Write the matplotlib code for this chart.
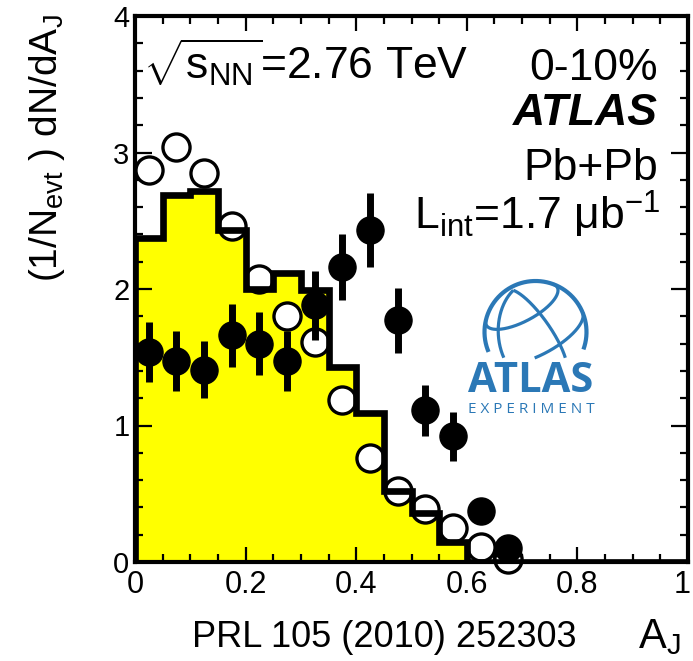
import numpy as np
import matplotlib
matplotlib.use('Agg')
import matplotlib.pyplot as plt
from matplotlib.transforms import ScaledTranslation

plt.rcParams['font.family'] = ['Liberation Sans', 'DejaVu Sans']
plt.rcParams['mathtext.fontset'] = 'custom'
plt.rcParams['mathtext.rm'] = 'Liberation Sans'
plt.rcParams['mathtext.it'] = 'Liberation Sans:italic'
plt.rcParams['mathtext.bf'] = 'Liberation Sans:bold'

# ---------------- data ----------------
bin_edges = [0.00, 0.05, 0.10, 0.15, 0.20, 0.25, 0.30, 0.35, 0.40, 0.45, 0.50,
             0.55, 0.60, 0.65, 0.70, 0.75, 0.80, 0.85, 0.90, 0.95, 1.00]
hijing_pythia = [2.37, 2.69, 2.72, 2.43, 2.00, 2.12, 1.99, 1.43, 1.09, 0.52,
                 0.36, 0.15, 0.0, 0.0, 0.0, 0.0, 0.0, 0.0, 0.0, 0.0]
aj_centers = [0.025, 0.075, 0.125, 0.175, 0.225, 0.275, 0.325, 0.375, 0.425,
              0.475, 0.525, 0.575, 0.625, 0.675]
pp_values = [2.87, 3.04, 2.85, 2.46, 2.07, 1.80, 1.61, 1.19, 0.76, 0.52,
             0.39, 0.25, 0.11, 0.02]
pbpb_values = [1.54, 1.47, 1.41, 1.66, 1.60, 1.47, 1.88, 2.16, 2.43, 1.77,
               1.11, 0.92, 0.37, 0.10]
pbpb_errors = [0.22, 0.22, 0.21, 0.23, 0.23, 0.22, 0.25, 0.24, 0.27, 0.24,
               0.19, 0.18, 0.06, 0.04]
x_ticks = [0, 0.2, 0.4, 0.6, 0.8, 1.0]
x_tick_labels = ['0', '0.2', '0.4', '0.6', '0.8', '1']
y_ticks = [0, 1, 2, 3, 4]
y_tick_labels = ['0', '1', '2', '3', '4']

W, H = 693, 661
def fx(px):
    return px / W
def fy(py):
    return 1 - py / H

fig = plt.figure(figsize=(W / 100, H / 100), dpi=100)
ax = fig.add_axes([fx(135), fy(562), 553 / W, 546 / H])

ax.stairs(hijing_pythia, bin_edges, fill=True, color='#ffff00', zorder=1)
ax.plot(aj_centers, pp_values, 'o', mfc='white', mec='black', ms=19.5, mew=2.4,
        zorder=3, clip_on=False)
ax.stairs(hijing_pythia, bin_edges, color='black', lw=4.8, baseline=0, zorder=4)
ax.errorbar(aj_centers, pbpb_values, yerr=pbpb_errors, fmt='o', color='black',
            ms=19.5, elinewidth=5, capsize=0, zorder=5, clip_on=False)

ax.set_xlim(0, 1)
ax.set_ylim(0, 4)
ax.set_xticks(x_ticks)
ax.set_xticklabels(x_tick_labels)
ax.set_xticks(np.arange(0, 1.0001, 0.05), minor=True)
ax.set_yticks(y_ticks)
ax.set_yticklabels(y_tick_labels)
ax.set_yticks(np.arange(0, 4.0001, 0.2), minor=True)
ax.tick_params(which='both', direction='in', top=True, right=True, width=1.6,
               color='black')
ax.tick_params(axis='x', which='major', length=11, labelsize=22, pad=6)
ax.tick_params(axis='x', which='minor', length=6)
ax.tick_params(axis='y', which='major', length=12, labelsize=21, pad=4)
ax.tick_params(axis='y', which='minor', length=6)
for s in ax.spines.values():
    s.set_linewidth(3)
    s.set_zorder(6)
last = ax.get_xticklabels()[-1]
last.set_transform(last.get_transform() + ScaledTranslation(-4 / 72, 0, fig.dpi_scale_trans))

# texts
fig.text(fx(143), fy(79), r'$\sqrt{\mathrm{s}_{\mathrm{NN}}}$=2.76 TeV', fontsize=32,
         ha='left', va='baseline')
fig.text(fx(658), fy(80), '0-10%', fontsize=32, ha='right', va='baseline')
fig.text(fx(658), fy(125), 'ATLAS', fontsize=32, ha='right', va='baseline',
         fontweight='bold', fontstyle='italic')
fig.text(fx(658), fy(180), 'Pb+Pb', fontsize=32, ha='right', va='baseline')
fig.text(fx(660), fy(230), r'L$_{\mathrm{int}}$=1.7 μb$^{\mathrm{-1}}$', fontsize=32,
         ha='right', va='baseline')

fig.text(fx(27), fy(14), r'(1/N$_{\mathrm{evt}}$ ) dN/dA$_{\mathrm{J}}$', fontsize=28,
         rotation=90, ha='left', va='top')
fig.text(fx(192), fy(647), 'PRL 105 (2010) 252303', fontsize=26, ha='left', va='baseline')
fig.text(fx(638), fy(648), r'A$_{\mathrm{J}}$', fontsize=30, ha='left', va='baseline')

# ATLAS experiment logo
blue = '#2b78b6'
lx0, lx1, ly0, ly1 = 455, 615, 265, 425
lax = fig.add_axes([fx(lx0), fy(ly1), (lx1 - lx0) / W, (ly1 - ly0) / H])
lax.set_xlim(lx0, lx1)
lax.set_ylim(ly1, ly0)
lax.axis('off')
lax.patch.set_visible(False)
cx, cy, R = 535.5, 332.0, 51.0
t = np.radians(np.linspace(-20, 203, 300))
lax.plot(cx + R * np.cos(t), cy - R * np.sin(t), color=blue, lw=3.0,
         solid_capstyle='butt')

alpha = np.radians(28)
beta = np.radians(22)
def project(lat, lon):
    x = np.cos(lat) * np.sin(lon)
    y = np.sin(lat)
    z = np.cos(lat) * np.cos(lon)
    y1 = y * np.cos(beta) - z * np.sin(beta)
    z1 = y * np.sin(beta) + z * np.cos(beta)
    x2 = x * np.cos(alpha) - y1 * np.sin(alpha)
    y2 = x * np.sin(alpha) + y1 * np.cos(alpha)
    return cx + R * x2, cy - R * y2, z1

def draw_curve(px, py, pz):
    m = (pz > 0) & (py < 358)
    px = np.where(m, px, np.nan)
    py = np.where(m, py, np.nan)
    lax.plot(px, py, color=blue, lw=2.3, solid_capstyle='butt')

lat_s = np.radians(np.linspace(-90, 90, 400))
for lon in (-52, 18):
    draw_curve(*project(lat_s, np.full_like(lat_s, np.radians(lon))))
lon_s = np.radians(np.linspace(-180, 180, 600))
for lat in (-5, 38):
    draw_curve(*project(np.full_like(lon_s, np.radians(lat)), lon_s))

lax.text(531, 402, 'ATLAS', fontsize=30, fontweight='bold', color=blue,
         ha='center', va='bottom', family=['Open Sans', 'Liberation Sans'])
lax.text(531.5, 402, 'E X P E R I M E N T', fontsize=11, color=blue,
         ha='center', va='top', family=['Open Sans', 'Liberation Sans'])

fig.savefig('out.png', dpi=100)
